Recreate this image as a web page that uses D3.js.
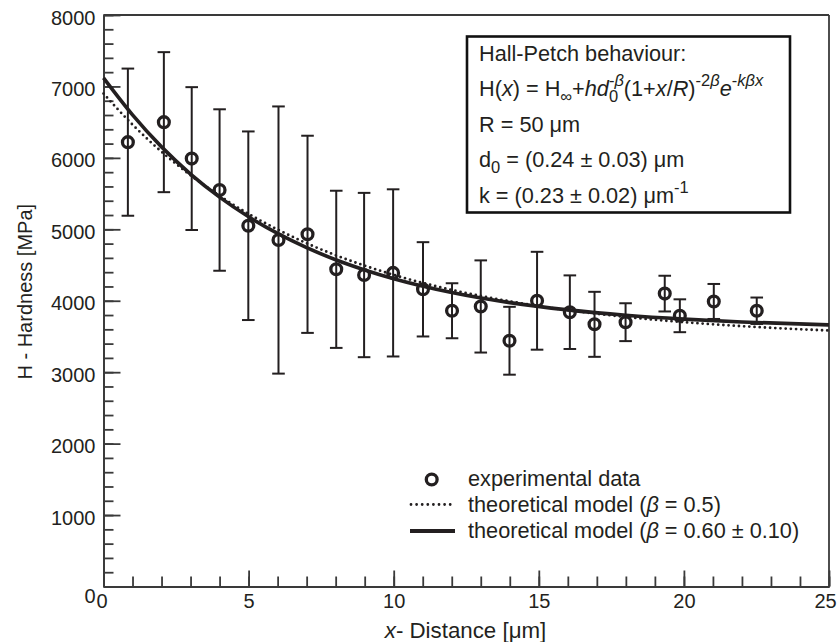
<!DOCTYPE html>
<html>
<head>
<meta charset="utf-8">
<script src="https://cdn.jsdelivr.net/npm/d3@7"></script>
<style>
  body { margin: 0; background: #fff; }
  svg text { font-family: "Liberation Sans", Arial, Helvetica, sans-serif; fill: #231f20; }
</style>
</head>
<body>
<div id="chart"></div>
<script>
// measured points (distance in um, hardness in MPa, symmetric error)
const distance = [0.84, 2.08, 3.04, 4.0, 4.99, 6.03, 7.03, 8.02, 8.98, 9.98, 11.01, 12.01, 13.0, 13.99, 14.94, 16.07, 16.92, 17.99, 19.34, 19.86, 21.03, 22.51];
const hardness = [6220, 6500, 5990, 5550, 5050, 4850, 4930, 4440, 4360, 4390, 4160, 3860, 3920, 3440, 4000, 3840, 3670, 3700, 4100, 3790, 3990, 3860];
const hardnessErr = [1030, 980, 1000, 1130, 1320, 1870, 1380, 1100, 1150, 1170, 660, 385, 645, 475, 685, 515, 455, 265, 250, 230, 245, 185];

// model curves
const modelX = [0, 1, 2, 3, 4, 5, 6, 7, 8, 9, 10, 12, 14, 16, 18, 20, 22, 25];
const modelBeta05 = [6900, 6465, 6086, 5756, 5468, 5216, 4997, 4805, 4637, 4491, 4362, 4152, 3992, 3868, 3773, 3700, 3644, 3583];
const modelBeta06 = [7120, 6602, 6154, 5773, 5450, 5175, 4942, 4743, 4574, 4431, 4308, 4115, 3974, 3872, 3797, 3743, 3703, 3662];

const xMajorTicks = [0, 5, 10, 15, 20, 25];
const yMajorTicks = [0, 1000, 2000, 3000, 4000, 5000, 6000, 7000, 8000];

const width = 838, height = 642;
const margin = { top: 15, right: 9, bottom: 55.5, left: 103.5 };
const ink = "#231f20", axisColor = "#3a3a3a";
const fs = 21.7; // box + legend text size

const svg = d3.select("#chart").append("svg")
  .attr("width", width)
  .attr("height", height);

const x = d3.scaleLinear().domain([0, 25]).range([margin.left, width - margin.right]);
const y = d3.scaleLinear().domain([0, 8000]).range([height - margin.bottom, margin.top]);

// minor ticks
svg.append("g")
  .attr("transform", `translate(0,${y(0)})`)
  .call(d3.axisBottom(x).tickValues(d3.range(0, 26, 1)).tickSizeInner(-10).tickSizeOuter(0).tickFormat(""));
svg.append("g")
  .attr("transform", `translate(${x(0)},0)`)
  .call(d3.axisLeft(y).tickValues(d3.range(0, 8001, 200)).tickSizeInner(-10).tickSizeOuter(0).tickFormat(""));

// major ticks + labels
const xAxis = svg.append("g")
  .attr("transform", `translate(0,${y(0)})`)
  .call(d3.axisBottom(x).tickValues(xMajorTicks).tickSizeInner(-16).tickSizeOuter(0).tickPadding(7));
const yAxis = svg.append("g")
  .attr("transform", `translate(${x(0)},0)`)
  .call(d3.axisLeft(y).tickValues(yMajorTicks).tickFormat(d3.format("d"))
    .tickSizeInner(-17).tickSizeOuter(0).tickPadding(8));

svg.selectAll(".tick line, .domain").attr("stroke", axisColor).attr("stroke-width", 1.8);
xAxis.selectAll("text").attr("font-size", 20).attr("font-family", null)
  .attr("dx", d => d === 25 ? -4 : d === 0 ? -2 : 0);
yAxis.selectAll("text").attr("font-size", 20).attr("font-family", null)
  .attr("dy", d => d === 0 ? "0.8em" : "0.45em");

// frame top and right
svg.append("line").attr("x1", x(0)).attr("x2", x(25)).attr("y1", y(8000)).attr("y2", y(8000))
  .attr("stroke", axisColor).attr("stroke-width", 1.8);
svg.append("line").attr("x1", x(25)).attr("x2", x(25)).attr("y1", y(8000)).attr("y2", y(0))
  .attr("stroke", axisColor).attr("stroke-width", 1.8);

// axis titles
svg.append("text")
  .attr("transform", `translate(31.5,${(y(0) + y(8000)) / 2 - 9}) rotate(-90)`)
  .attr("text-anchor", "middle")
  .attr("font-size", 20)
  .text("H - Hardness [MPa]");

const xTitle = svg.append("text")
  .attr("x", 465.5).attr("y", 638)
  .attr("text-anchor", "middle")
  .attr("font-size", 22.3);
xTitle.append("tspan").attr("font-style", "italic").text("x");
xTitle.append("tspan").text("- Distance [\u03bcm]");

// model curves
const pts05 = modelX.map((d, i) => [d, modelBeta05[i]]);
const pts06 = modelX.map((d, i) => [d, modelBeta06[i]]);
const line = d3.line().x(d => x(d[0])).y(d => y(d[1])).curve(d3.curveMonotoneX);

svg.append("path")
  .attr("d", line(pts05))
  .attr("fill", "none")
  .attr("stroke", ink)
  .attr("stroke-width", 2.8)
  .attr("stroke-linecap", "round")
  .attr("stroke-dasharray", "0 5.2");

svg.append("path")
  .attr("d", line(pts06))
  .attr("fill", "none")
  .attr("stroke", ink)
  .attr("stroke-width", 3.6);

// error bars
const data = distance.map((d, i) => ({ x: d, h: hardness[i], e: hardnessErr[i] }));
const bars = svg.append("g").attr("stroke", ink).attr("stroke-width", 2);
bars.selectAll(".ebar").data(data).enter().append("line")
  .attr("x1", d => x(d.x)).attr("x2", d => x(d.x))
  .attr("y1", d => y(d.h + d.e)).attr("y2", d => y(d.h - d.e));
bars.selectAll(".capTop").data(data).enter().append("line")
  .attr("x1", d => x(d.x) - 6.3).attr("x2", d => x(d.x) + 6.3)
  .attr("y1", d => y(d.h + d.e)).attr("y2", d => y(d.h + d.e));
bars.selectAll(".capBot").data(data).enter().append("line")
  .attr("x1", d => x(d.x) - 6.3).attr("x2", d => x(d.x) + 6.3)
  .attr("y1", d => y(d.h - d.e)).attr("y2", d => y(d.h - d.e));

// points
svg.selectAll(".pt").data(data).enter().append("circle")
  .attr("cx", d => x(d.x)).attr("cy", d => y(d.h))
  .attr("r", 5.4)
  .attr("fill", "none")
  .attr("stroke", ink)
  .attr("stroke-width", 3.3);

// rich text helper: flags i = italic, ^ = superscript, _ = subscript
function rich(sel, parts) {
  let level = 0;
  parts.forEach(([str, flags = "", dx = 0]) => {
    const target = flags.includes("^") ? -10 : flags.includes("_") ? 6 : 0;
    const small = flags.includes("^") || flags.includes("_");
    const t = sel.append("tspan")
      .attr("dy", target - level)
      .attr("font-size", small ? 16.5 : fs)
      .attr("font-style", flags.includes("i") ? "italic" : "normal")
      .text(str);
    if (dx) t.attr("dx", dx);
    level = target;
  });
}

// info box
svg.append("rect")
  .attr("x", 467).attr("y", 36.5)
  .attr("width", 323).attr("height", 176)
  .attr("fill", "#fff")
  .attr("stroke", "#111")
  .attr("stroke-width", 2.6);

const boxX = 479;
svg.append("text").attr("x", boxX).attr("y", 60.5).attr("font-size", fs).text("Hall-Petch behaviour:");

rich(svg.append("text").attr("x", boxX).attr("y", 96).attr("font-size", fs), [
  ["H("], ["x", "i"], [") = H"], ["\u221e", "_"], ["+"], ["hd", "i"], ["0", "_"],
  ["-", "^", -9.2], ["\u03b2", "^i"], ["(1+"], ["x", "i"], ["/"], ["R", "i"], [")"],
  ["-2", "^"], ["\u03b2", "^i"], ["e", "i"], ["-", "^"], ["k\u03b2x", "^i"]
]);

rich(svg.append("text").attr("x", boxX).attr("y", 131.5).attr("font-size", fs), [
  ["R = 50 \u03bcm"]
]);

rich(svg.append("text").attr("x", boxX).attr("y", 167).attr("font-size", fs), [
  ["d"], ["0", "_"], [" = (0.24 \u00b1 0.03) \u03bcm"]
]);

rich(svg.append("text").attr("x", boxX).attr("y", 202.5).attr("font-size", fs), [
  ["k = (0.23 \u00b1 0.02) \u03bcm"], ["-1", "^"]
]);

// legend
const legX = 468;
svg.append("circle").attr("cx", 431.7).attr("cy", 479.5).attr("r", 5.4)
  .attr("fill", "none").attr("stroke", ink).attr("stroke-width", 3.3);
svg.append("text").attr("x", legX).attr("y", 485.5).attr("font-size", fs).text("experimental data");

svg.append("line").attr("x1", 411).attr("x2", 452).attr("y1", 504.5).attr("y2", 504.5)
  .attr("stroke", ink).attr("stroke-width", 2.8).attr("stroke-linecap", "round").attr("stroke-dasharray", "0 5.6");
rich(svg.append("text").attr("x", legX).attr("y", 511.5).attr("font-size", fs), [
  ["theoretical model ("], ["\u03b2", "i"], [" = 0.5)"]
]);

svg.append("line").attr("x1", 410).attr("x2", 455).attr("y1", 531).attr("y2", 531)
  .attr("stroke", ink).attr("stroke-width", 3.8);
rich(svg.append("text").attr("x", legX).attr("y", 537.5).attr("font-size", fs), [
  ["theoretical model ("], ["\u03b2", "i"], [" = 0.60 \u00b1 0.10)"]
]);
</script>
</body>
</html>
